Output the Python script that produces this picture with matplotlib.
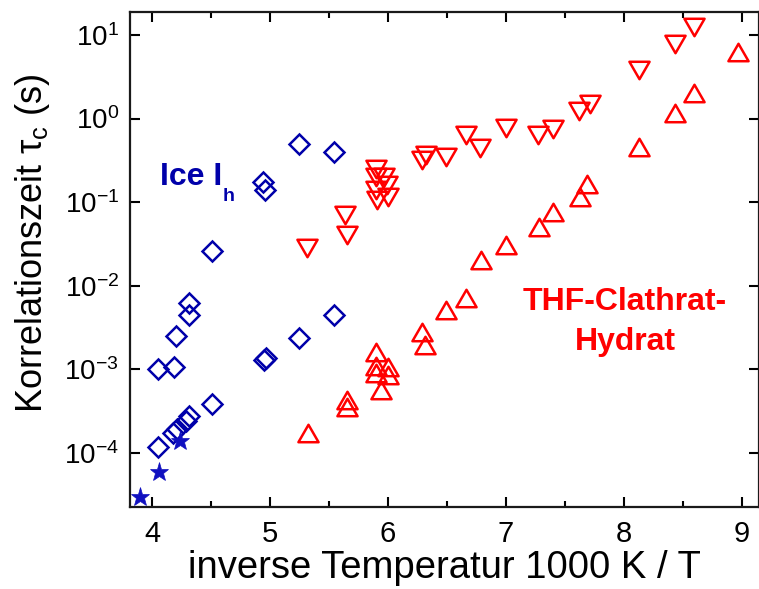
import math
import matplotlib
matplotlib.use("Agg")
import matplotlib.pyplot as plt
from matplotlib.markers import MarkerStyle
from matplotlib.path import Path
from matplotlib.ticker import FixedLocator, MultipleLocator, FuncFormatter, NullLocator

plt.rcParams['font.family'] = ['Liberation Sans', 'DejaVu Sans']
plt.rcParams['mathtext.fontset'] = 'custom'
plt.rcParams['mathtext.rm'] = 'Liberation Sans'
plt.rcParams['mathtext.it'] = 'Liberation Sans'
plt.rcParams['mathtext.bf'] = 'Liberation Sans:bold'
plt.rcParams['mathtext.default'] = 'regular'

# ---- data ----
ice_upper_x = [4.05, 4.19, 4.20, 4.31, 4.31, 4.51, 4.94, 4.96, 5.25, 5.54]
ice_upper_y = [1.0e-3, 1.07e-3, 2.5e-3, 4.4e-3, 6.2e-3, 0.026, 0.175, 0.14, 0.50, 0.40]

ice_lower_x = [4.05, 4.18, 4.21, 4.29, 4.31, 4.51, 4.95, 4.97, 5.25, 5.54]
ice_lower_y = [1.17e-4, 1.74e-4, 1.9e-4, 2.4e-4, 2.75e-4, 3.8e-4, 1.3e-3, 1.35e-3, 2.35e-3, 4.5e-3]

ice_star_x = [3.90, 4.06, 4.24]
ice_star_y = [2.95e-5, 5.9e-5, 1.38e-4]

thf_down_x = [5.31, 5.64, 5.65, 5.90, 5.90, 5.90, 5.91, 5.97, 5.99, 6.00, 6.29, 6.32,
              6.49, 6.66, 6.78, 7.00, 7.27, 7.40, 7.62, 7.71, 8.13, 8.43, 8.59]
thf_down_y = [0.028, 0.070, 0.040, 0.25, 0.20, 0.14, 0.106, 0.20, 0.16, 0.116, 0.32, 0.366,
              0.35, 0.63, 0.44, 0.76, 0.63, 0.74, 1.24, 1.49, 3.8, 7.8, 12.5]

thf_up_x = [5.32, 5.65, 5.65, 5.90, 5.90, 5.90, 5.94, 6.00, 6.00, 6.29, 6.31, 6.49,
            6.66, 6.79, 7.00, 7.28, 7.40, 7.63, 7.69, 8.13, 8.43, 8.59, 8.97]
thf_up_y = [1.7e-4, 4.3e-4, 3.5e-4, 1.6e-3, 1.1e-3, 8.9e-4, 5.6e-4, 1.07e-3, 8.5e-4, 2.8e-3,
            1.95e-3, 5.1e-3, 7.1e-3, 0.0204, 0.0305, 0.0506, 0.0766, 0.116, 0.164, 0.46,
            1.15, 2.0, 6.3]

x_ticks = [4, 5, 6, 7, 8, 9]
y_exponents = [-4, -3, -2, -1, 0, 1]

BLUE = '#0000AA'
STAR_BLUE = '#1010C0'
RED = '#FF0000'

fig = plt.figure(figsize=(7.59, 5.89), dpi=100)
ax = fig.add_axes([130 / 759, 82 / 589, 629 / 759, 495 / 589])

tri_up = MarkerStyle(Path([(0, 0.433), (-0.5, -0.433), (0.5, -0.433), (0, 0.433)],
                          [Path.MOVETO, Path.LINETO, Path.LINETO, Path.CLOSEPOLY]),
                     joinstyle='miter')
tri_down = MarkerStyle(Path([(0, -0.433), (-0.5, 0.433), (0.5, 0.433), (0, -0.433)],
                            [Path.MOVETO, Path.LINETO, Path.LINETO, Path.CLOSEPOLY]),
                       joinstyle='miter')
diam = MarkerStyle('D', joinstyle='miter')

mew = 1.8
ax.plot(ice_upper_x, ice_upper_y, ls='none', marker=diam, ms=10.3, mfc='none', mec=BLUE, mew=mew)
ax.plot(ice_lower_x, ice_lower_y, ls='none', marker=diam, ms=10.3, mfc='none', mec=BLUE, mew=mew)
ax.plot(ice_star_x, ice_star_y, ls='none', marker='*', ms=14, mfc=STAR_BLUE, mec=STAR_BLUE, mew=0.5,
        clip_on=False)
ax.plot(thf_down_x, thf_down_y, ls='none', marker=tri_down, ms=14.5, mfc='none', mec=RED, mew=mew)
ax.plot(thf_up_x, thf_up_y, ls='none', marker=tri_up, ms=14.5, mfc='none', mec=RED, mew=mew)

ax.set_yscale('log')
ax.set_xlim(3.814, 9.144)
ax.set_ylim(10 ** -4.65, 10 ** 1.275)

ax.xaxis.set_major_locator(FixedLocator(x_ticks))
ax.xaxis.set_minor_locator(MultipleLocator(0.5))
ax.yaxis.set_major_locator(FixedLocator([10.0 ** e for e in y_exponents]))
ax.yaxis.set_minor_locator(NullLocator())
ax.yaxis.set_major_formatter(FuncFormatter(lambda v, p: r'$\mathregular{10^{%d}}$' % round(math.log10(v))))
ax.xaxis.set_major_formatter(FuncFormatter(lambda v, p: '%d' % v))

ax.tick_params(which='both', direction='in', top=True, right=True, width=1.5)
ax.tick_params(which='major', length=7.5)
ax.tick_params(which='minor', length=4.5)
ax.tick_params(axis='x', which='major', labelsize=21, pad=9)
ax.tick_params(axis='y', which='major', labelsize=20, pad=8)
for s in ax.spines.values():
    s.set_linewidth(1.6)
    s.set_color('#1a1a1a')

ax.set_xlabel('inverse Temperatur 1000 K / T', fontsize=27.5, labelpad=2)
ax.set_ylabel(r'Korrelationszeit τ$_\mathregular{c}$ (s)', fontsize=26,
              va='baseline', ha='center', rotation=90, rotation_mode='anchor')
ax.yaxis.set_label_coords((42 - 130) / 629, (507 - 243) / 495)

ax.text(0.048, 0.650, 'Ice I', transform=ax.transAxes, fontsize=23,
        fontweight='bold', color=BLUE, ha='left', va='baseline')
ax.text(0.147, 0.618, 'h', transform=ax.transAxes, fontsize=14,
        fontweight='bold', color=BLUE, ha='left', va='baseline')
ax.text(0.787, 0.398, 'THF-Clathrat-', transform=ax.transAxes, fontsize=23,
        fontweight='bold', color=RED, ha='center', va='baseline')
ax.text(0.787, 0.317, 'Hydrat', transform=ax.transAxes, fontsize=23,
        fontweight='bold', color=RED, ha='center', va='baseline')

fig.savefig('out.png', dpi=100)
